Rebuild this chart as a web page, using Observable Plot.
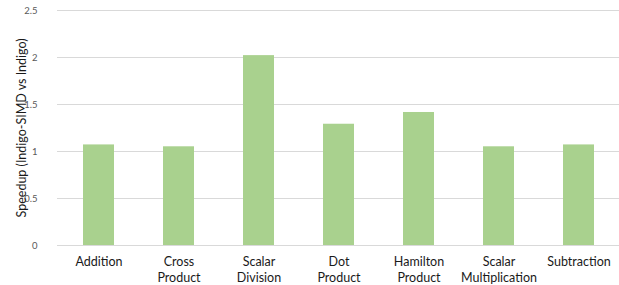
<!DOCTYPE html>
<html>
<head>
<meta charset="utf-8">
<script src="https://cdn.jsdelivr.net/npm/d3@7"></script>
<script src="https://cdn.jsdelivr.net/npm/@observablehq/plot@0.6"></script>
<style>
  html, body { margin: 0; padding: 0; background: #fff; }
  #chart { width: 619px; height: 285px; }
</style>
</head>
<body>
<div id="chart"></div>
<script>
const categories = ["Addition", "Cross\nProduct", "Scalar\nDivision", "Dot\nProduct", "Hamilton\nProduct", "Scalar\nMultiplication", "Subtraction"];
const speedups = [1.07, 1.05, 2.02, 1.29, 1.415, 1.05, 1.07];
const yTicks = [0, 0.5, 1, 1.5, 2, 2.5];
const yTitle = "Speedup (Indigo-SIMD vs Indigo)";

const data = categories.map((c, i) => ({category: c, value: speedups[i]}));

const chart = Plot.plot({
  width: 619,
  height: 285,
  marginLeft: 57,
  marginRight: 0,
  marginTop: 10,
  marginBottom: 40,
  style: {fontFamily: "Lato, 'Open Sans', sans-serif", background: "#fff"},
  x: {domain: categories, paddingInner: 0.614, paddingOuter: 0.307, align: 0.5},
  y: {domain: [0, 2.5]},
  marks: [
    Plot.gridY(yTicks, {stroke: "#d9d9d9", strokeOpacity: 1, strokeWidth: 1}),
    Plot.barY(data, {x: "category", y: "value", fill: "#a9d18e"}),
    Plot.axisY(yTicks, {
      tickSize: 0, tickPadding: 20, fontSize: 9.5, fill: "#595959",
      tickFormat: d => String(d), label: null
    }),
    Plot.axisY([], {
      tickSize: 0, fontSize: 12.5, fill: "#1a1a1a",
      label: yTitle, labelAnchor: "center", labelArrow: "none", labelOffset: 40
    }),
    Plot.axisX({tickSize: 0, tickPadding: 9, fontSize: 12.5, fill: "#1a1a1a", lineHeight: 1.3, label: null})
  ]
});
document.getElementById("chart").appendChild(chart);
</script>
</body>
</html>
